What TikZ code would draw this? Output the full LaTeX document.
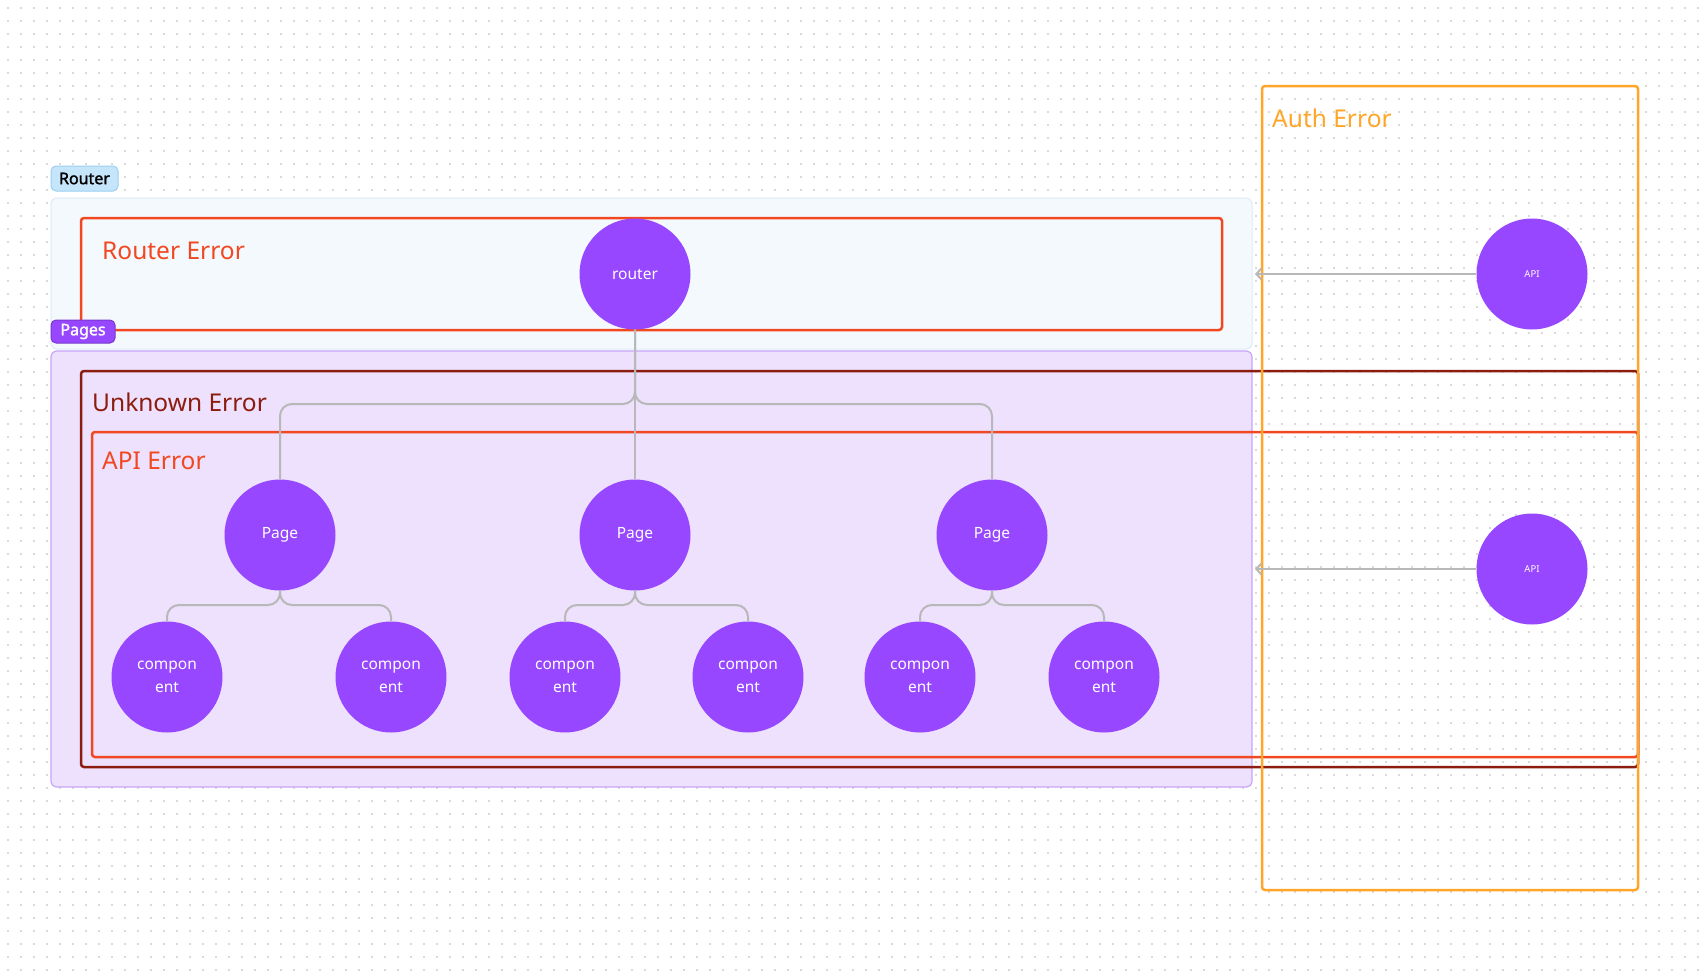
\documentclass[tikz,border=0pt]{standalone}
\usepackage{fontspec}
\setmainfont{Noto Sans}[AutoFakeBold=1.6]
\usetikzlibrary{arrows.meta}
\definecolor{fpurple}{HTML}{9747FF}
\definecolor{ferr}{HTML}{F24822}
\definecolor{funk}{HTML}{8C1C0E}
\definecolor{fauth}{HTML}{FFA629}
\definecolor{rfill}{HTML}{F4F9FE}
\definecolor{rline}{HTML}{DCEBFA}
\definecolor{pfill}{HTML}{EDE1FD}
\definecolor{pline}{HTML}{C8A5F8}
\definecolor{conncol}{HTML}{B8B8B8}
\definecolor{dotcol}{HTML}{DADADA}
\definecolor{rlab}{HTML}{C5E5FB}
\definecolor{rlabline}{HTML}{9ACFF2}
\tikzset{
  bubble/.style={circle, fill=fpurple, text=white, minimum size=111pt, inner sep=0pt, align=center, font=\fontsize{15.5}{23}\selectfont},
  apibubble/.style={bubble, font=\fontsize{9.5}{11}\selectfont},
  conn/.style={draw=conncol, line width=2pt, rounded corners=12pt},
  errbox/.style={line width=2.5pt, rounded corners=3pt},
  title/.style={anchor=base west, inner sep=0pt, font=\fontsize{24.5}{30}\selectfont},
  tag/.style={rounded corners=5pt, inner sep=0pt, font=\fontsize{16}{18}\selectfont\bfseries}
}
\begin{document}
\begin{tikzpicture}[x=1pt,y=-1pt]
\useasboundingbox (0,0) rectangle (1700,977);
\fill[white] (0,0) rectangle (1700,977);
% dotted grid
\foreach \x in {8,21,...,1700}{
  \foreach \y in {8,21,...,977}{
    \fill[dotcol] (\x-0.9,\y-0.9) rectangle (\x+0.9,\y+0.9);
  }
}
% group boxes
\draw[fill=rfill, draw=rline, line width=1pt, rounded corners=6pt] (51,198) rectangle (1252,349);
\draw[fill=pfill, draw=pline, line width=1.2pt, rounded corners=6pt] (51,351) rectangle (1252,787);
% error boxes
\draw[errbox, draw=ferr] (81,218) rectangle (1222,330);
\draw[errbox, draw=funk] (81,371) rectangle (1638,767);
\draw[errbox, draw=ferr] (92,432) rectangle (1638,757);
\draw[errbox, draw=fauth] (1262,86) rectangle (1638,890);
% titles
\node[title, text=ferr] (trouter) at (102,259) {Router Error};
\node[title, text=funk] (tunk) at (92,411) {Unknown Error};
\node[title, text=ferr] (tapi) at (102,469) {API Error};
\node[title, text=fauth] (tauth) at (1272,127) {Auth Error};
% nodes
\node[bubble] (router) at (635,274) {router};
\node[bubble] (page1) at (280,535) {Page};
\node[bubble] (page2) at (635,535) {Page};
\node[bubble] (page3) at (992,535) {Page};
\node[bubble] (c1) at (167,677) {compon\\ent};
\node[bubble] (c2) at (391,677) {compon\\ent};
\node[bubble] (c3) at (565,677) {compon\\ent};
\node[bubble] (c4) at (748,677) {compon\\ent};
\node[bubble] (c5) at (920,677) {compon\\ent};
\node[bubble] (c6) at (1104,677) {compon\\ent};
\node[apibubble] (api1) at (1532,274) {API};
\node[apibubble] (api2) at (1532,569) {API};
% tree connectors
\coordinate (j0) at (635,404);
\draw[conn] (router.south) -- (page2.north);
\draw[conn] (router.south) |- (page1.north |- j0) -- (page1.north);
\draw[conn] (router.south) |- (page3.north |- j0) -- (page3.north);
\coordinate (j1) at (280,605);
\coordinate (j2) at (635,605);
\coordinate (j3) at (992,605);
\draw[conn] (page1.south) |- (c1.north |- j1) -- (c1.north);
\draw[conn] (page1.south) |- (c2.north |- j1) -- (c2.north);
\draw[conn] (page2.south) |- (c3.north |- j2) -- (c3.north);
\draw[conn] (page2.south) |- (c4.north |- j2) -- (c4.north);
\draw[conn] (page3.south) |- (c5.north |- j3) -- (c5.north);
\draw[conn] (page3.south) |- (c6.north |- j3) -- (c6.north);
% API arrows
\coordinate (e1) at (1255,274);
\coordinate (e2) at (1255,569);
\draw[draw=conncol, line width=2pt, -{Straight Barb[length=5pt,width=11pt]}] (api1.west) -- (e1);
\draw[draw=conncol, line width=2pt, -{Straight Barb[length=5pt,width=11pt]}] (api2.west) -- (e2);
% tags
\node[tag, fill=rlab, draw=rlabline, line width=1pt, minimum width=67pt, minimum height=25pt, text=black] (ltagr) at (84.5,178.5) {Router};
\node[tag, fill=fpurple, draw=fpurple!80!black, line width=1pt, minimum width=64pt, minimum height=23pt, text=white] (ltagp) at (83,331.5) {Pages};
\end{tikzpicture}
\end{document}
